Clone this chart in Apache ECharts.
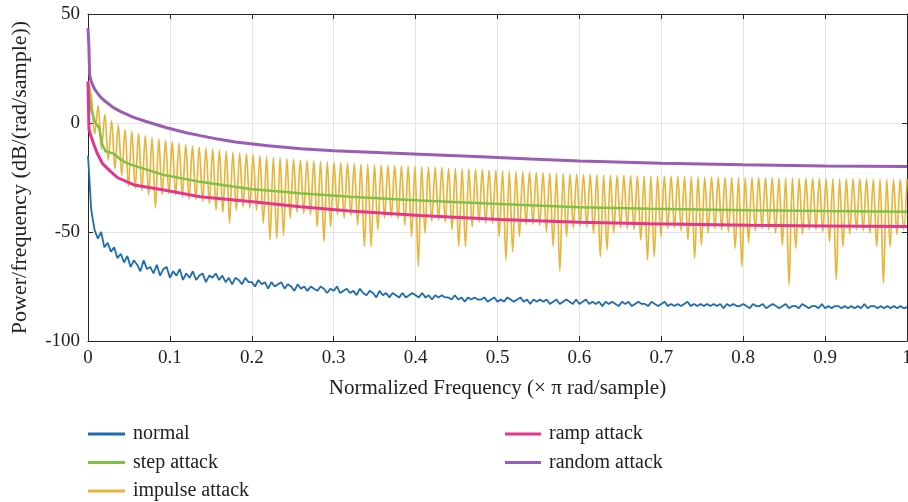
<!DOCTYPE html>
<html>
<head>
<meta charset="utf-8">
<script src="https://cdn.jsdelivr.net/npm/echarts@6/dist/echarts.min.js"></script>
<style>
  html, body { margin: 0; padding: 0; background: #fff; }
  #chart { width: 908px; height: 502px; }
</style>
</head>
<body>
<div id="chart"></div>
<script>
// series names, in legend order
const seriesNames = ['normal', 'step attack', 'impulse attack', 'ramp attack', 'random attack'];

// normal: one value every 0.004 of normalized frequency, from 0 to 1
const normalStep = 0.004;
const normalValues = [
  -15, -40, -49, -53, -50, -57, -55, -59, -57, -62,
  -60, -64, -61, -66, -63, -65, -68, -63, -67, -66,
  -69, -65, -70, -67, -66, -71, -68, -70, -67, -72,
  -69, -71, -68, -72, -70, -69, -73, -70, -71, -69,
  -72, -70, -73, -71, -74, -71, -72, -74, -71, -73,
  -73, -75, -72, -74, -73, -76, -73, -75, -74, -73,
  -76, -74, -75, -77, -74, -76, -75, -77, -75, -76,
  -77, -75, -76, -78, -76, -77, -75, -78, -77, -76,
  -78, -77, -79, -76, -78, -79, -77, -78, -80, -77,
  -79, -78, -80, -78, -79, -80, -78, -80, -79, -78,
  -79, -80, -78, -80, -79, -81, -79, -80, -79, -80,
  -80, -81, -79, -81, -80, -82, -80, -81, -80, -81,
  -81, -80, -82, -81, -80, -82, -81, -82, -80, -81,
  -82, -81, -80, -82, -81, -83, -81, -82, -81, -82,
  -81, -83, -82, -81, -83, -82, -81, -82, -83, -81,
  -83, -82, -81, -83, -82, -83, -82, -84, -82, -83,
  -82, -83, -84, -82, -83, -82, -84, -83, -82, -83,
  -83, -84, -82, -83, -84, -83, -82, -84, -83, -84,
  -83, -84, -83, -82, -84, -83, -84, -83, -84, -83,
  -84, -83, -84, -83, -85, -83, -84, -83, -84, -84,
  -83, -84, -85, -83, -84, -84, -83, -85, -84, -83,
  -84, -85, -84, -83, -85, -84, -84, -85, -83, -84,
  -85, -84, -84, -85, -83, -85, -84, -85, -84, -84,
  -85, -84, -85, -84, -85, -84, -85, -83, -85, -84,
  -84, -85, -84, -85, -84, -85, -84, -85, -84, -85, -84.5
];

// step attack
const stepX = [0, 0.004, 0.009, 0.0134, 0.0175, 0.0215, 0.031, 0.039, 0.048, 0.06, 0.093,
  0.137, 0.198, 0.259, 0.32, 0.405, 0.503, 0.6, 0.686, 0.808, 0.9, 1];
const stepValues = [18, 6, 0, -2, -10, -13, -14, -16.5, -18.5, -20, -23.9,
  -27, -30.3, -32.2, -33.8, -35.6, -37.2, -38.6, -39.3, -40, -40.4, -40.7];

// impulse attack: one arch per period, a cusp (dip) at the start and a top in the middle
const impulsePeriod = 1 / 121.5;
const impulseDips = [
  19, -5, -12, -17, -21, -24, -29, -30, -31, -33,
  -39, -33, -32.5, -33, -34, -35, -35, -36, -37, -40,
  -41, -46, -40, -38.5, -39, -40, -46, -53.7, -53, -51.4,
  -43.7, -41, -41.5, -42, -47.6, -54.4, -47.6, -42, -43.6, -42.5,
  -46.8, -56.7, -56.7, -49, -43.5, -43, -44, -46.8, -52, -65.6,
  -50.5, -45, -44.5, -45.5, -49, -56.7, -56.7, -47.6, -45.5, -46,
  -46, -52, -62.8, -59, -52, -46.5, -46.5, -47, -50, -56.7,
  -68, -52, -48, -47.5, -48, -50.6, -61.3, -58.3, -50.5, -48,
  -48.5, -49, -53.7, -62.8, -61.3, -52, -48.5, -48, -49.5, -53.7,
  -62, -56, -50.6, -48.5, -49, -50, -57.5, -65.9, -55, -49.5,
  -48.5, -49, -50.5, -56, -74.3, -57.5, -51, -49, -49, -50,
  -54.4, -72, -56.7, -51, -49, -49.5, -50.5, -56.7, -73.5, -56.7,
  -51, -49
];
const impulseTops = [
  12, 8, 4, 1, -1, -3, -3.8, -4.8, -5.8, -6.6,
  -7.3, -8, -8.7, -9.3, -9.9, -10.5, -11, -11.5, -12, -12.4,
  -12.9, -13.3, -13.8, -14.2, -14.6, -15, -15.3, -15.7, -16, -16.3,
  -16.7, -17, -17.2, -17.4, -17.6, -17.8, -18, -18.2, -18.4, -18.6,
  -18.8, -18.9, -19.1, -19.2, -19.4, -19.5, -19.7, -19.8, -19.9, -20.1,
  -20.2, -20.4, -20.5, -20.7, -20.8, -21, -21.1, -21.3, -21.4, -21.6,
  -21.7, -21.9, -22.1, -22.2, -22.4, -22.5, -22.7, -22.8, -23, -23.1,
  -23.2, -23.3, -23.4, -23.5, -23.6, -23.7, -23.8, -23.9, -24, -24,
  -24.1, -24.2, -24.2, -24.3, -24.4, -24.4, -24.5, -24.5, -24.6, -24.7,
  -24.7, -24.8, -24.8, -24.9, -24.9, -25, -25, -25, -25.1, -25.1,
  -25.2, -25.2, -25.3, -25.3, -25.3, -25.4, -25.4, -25.4, -25.5, -25.5,
  -25.5, -25.6, -25.6, -25.6, -25.6, -25.7, -25.7, -25.7, -25.8, -25.8,
  -25.8, -25.8
];

// ramp attack
const rampX = [0, 0.0012, 0.0049, 0.0073, 0.0114, 0.0175, 0.0277, 0.0358, 0.0562, 0.0928,
  0.137, 0.198, 0.259, 0.32, 0.405, 0.503, 0.6, 0.686, 0.808, 0.9, 1];
const rampValues = [19, -3, -7.5, -10, -14, -18.5, -22.3, -25, -28.4, -30.7,
  -33.8, -36, -38.4, -40.4, -42.4, -44.3, -45.5, -46.2, -46.9, -47.2, -47.5];

// random attack
const randomX = [0, 0.001, 0.002, 0.004, 0.008, 0.015, 0.02, 0.03, 0.04, 0.055, 0.07, 0.096,
  0.12, 0.137, 0.16, 0.18, 0.22, 0.26, 0.3, 0.36, 0.42, 0.48, 0.54, 0.6, 0.7, 0.8, 0.9, 1];
const randomValues = [43.5, 36, 22, 19, 15.5, 12, 10.3, 7.3, 5.2, 2.7, 0.8, -2.2,
  -4.5, -5.8, -7.5, -8.7, -10.4, -11.8, -12.7, -13.7, -14.6, -15.5, -16.5, -17.4, -18.5, -19.2, -19.7, -20];

const colors = ['#1d6cae', '#7cc243', '#e8b53b', '#e6338d', '#9a5db3'];
const fontFamily = '"Liberation Serif", "DejaVu Serif", serif';

function pairs(xs, ys) {
  return ys.map((y, i) => [xs[i], y]);
}

const normalData = normalValues.map((v, i) => [i * normalStep, v]);
const impulseData = [];
impulseDips.forEach((d, k) => {
  impulseData.push([k * impulsePeriod, d]);
  impulseData.push([Math.min(1, (k + 0.5) * impulsePeriod), impulseTops[k]]);
});

const chart = echarts.init(document.getElementById('chart'));

const boxAxis = {
  show: true,
  axisLine: { show: true, onZero: false, lineStyle: { color: '#262626', width: 1 } },
  axisTick: { show: true, inside: true, length: 5, lineStyle: { color: '#262626' } },
  axisLabel: { show: false },
  splitLine: { show: false }
};

const legendText = { fontFamily: fontFamily, fontSize: 20, color: '#222', lineHeight: 20, padding: [0, 0, 0, 3] };

chart.setOption({
  animation: false,
  color: colors,
  textStyle: { fontFamily: fontFamily, color: '#222' },
  grid: { left: 88, right: 1, top: 14, bottom: 161, containLabel: false, outerBoundsMode: 'none' },
  legend: [
    {
      data: seriesNames.slice(0, 3),
      orient: 'vertical',
      left: 88, top: 424, padding: 0,
      icon: 'rect', itemWidth: 37, itemHeight: 3, itemGap: 8.5,
      textStyle: legendText
    },
    {
      data: seriesNames.slice(3),
      orient: 'vertical',
      left: 505, top: 424, padding: 0,
      icon: 'rect', itemWidth: 36, itemHeight: 3, itemGap: 8.5,
      textStyle: legendText
    }
  ],
  xAxis: [
    {
      type: 'value', min: 0, max: 1, interval: 0.1,
      name: 'Normalized Frequency (\u00d7 \u03c0 rad/sample)',
      nameLocation: 'middle', nameGap: 37,
      nameTextStyle: { fontFamily: fontFamily, fontSize: 21, color: '#222' },
      axisLine: { onZero: false, lineStyle: { color: '#262626', width: 1 } },
      axisTick: { inside: true, length: 5, lineStyle: { color: '#262626' } },
      axisLabel: { fontFamily: fontFamily, fontSize: 19, color: '#222', margin: 8 },
      splitLine: { show: true, lineStyle: { color: '#e3e3e3', width: 1 } }
    },
    Object.assign({ type: 'value', position: 'top', min: 0, max: 1, interval: 0.1 }, boxAxis)
  ],
  yAxis: [
    {
      type: 'value', min: -100, max: 50, interval: 50,
      name: 'Power/frequency (dB/(rad/sample))',
      nameLocation: 'middle', nameGap: 57,
      nameTextStyle: { fontFamily: fontFamily, fontSize: 22, color: '#222' },
      axisLine: { show: true, onZero: false, lineStyle: { color: '#262626', width: 1 } },
      axisTick: { show: true, inside: true, length: 5, lineStyle: { color: '#262626' } },
      axisLabel: { fontFamily: fontFamily, fontSize: 19, color: '#222', margin: 8 },
      splitLine: { show: true, lineStyle: { color: '#e3e3e3', width: 1 } }
    },
    Object.assign({ type: 'value', position: 'right', min: -100, max: 50, interval: 50 }, boxAxis)
  ],
  series: [
    {
      name: seriesNames[0], type: 'line', data: normalData, showSymbol: false, symbol: 'none',
      lineStyle: { width: 1.8, color: colors[0] }, z: 3
    },
    {
      name: seriesNames[1], type: 'line', data: pairs(stepX, stepValues), showSymbol: false, symbol: 'none',
      lineStyle: { width: 2.5, color: colors[1] }, z: 4
    },
    {
      name: seriesNames[2], type: 'line', data: impulseData, showSymbol: false, symbol: 'none',
      smooth: 0.35,
      lineStyle: { width: 1.7, color: colors[2] }, z: 2
    },
    {
      name: seriesNames[3], type: 'line', data: pairs(rampX, rampValues), showSymbol: false, symbol: 'none',
      lineStyle: { width: 3, color: colors[3] }, z: 5
    },
    {
      name: seriesNames[4], type: 'line', data: pairs(randomX, randomValues), showSymbol: false, symbol: 'none',
      lineStyle: { width: 3, color: colors[4] }, z: 6
    }
  ]
});
</script>
</body>
</html>
